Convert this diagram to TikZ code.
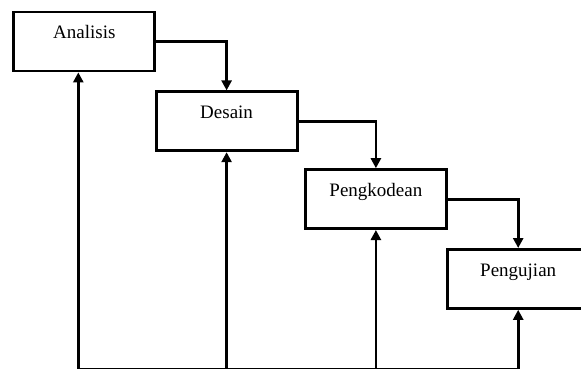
\documentclass[tikz,border=0pt]{standalone}
\usepackage{fontspec}
\setmainfont{Liberation Serif}
\usetikzlibrary{arrows.meta, positioning}

\begin{document}
\begin{tikzpicture}[x=1pt, y=-1pt, line width=2.8pt, >={Triangle[length=10pt, width=10pt]},
	every node/.style={align=center},
	phase/.style={rectangle, draw, minimum width=141pt, inner xsep=0pt, inner ysep=0pt,
		text height=27pt, text depth=32pt, font=\fontsize{19}{23}\selectfont}]
				\useasboundingbox (0,0) rectangle (581,369);
				% Nodes
				\node (analisis) [phase] at (84.3, 41.5) {Analisis};
				\node (desain) [phase, below right=18pt and -1.5pt of analisis] {Desain};
				\node (pengkodean) [phase, below right=16pt and 5.5pt of desain] {Pengkodean};
				\node (pengujian) [phase, below right=18pt and -1.5pt of pengkodean] {Pengujian};
				\coordinate (base) at (0, 369.8);
				
				% Arrows
				\draw[->] (analisis.east) -| (desain.north);
				\draw[->] (desain.east) -| (pengkodean.north);
				\draw[->] (pengkodean.east) -| (pengujian.north);
				\draw ([xshift=-6pt]analisis.south |- base) -- (pengujian.south |- base);
				\draw[->] ([xshift=-6pt]analisis.south |- base) -- ([xshift=-6pt]analisis.south);
				\draw[->] (desain.south |- base) -- (desain.south);
				\draw[->] (pengkodean.south |- base) -- (pengkodean.south);
				\draw[->] (pengujian.south |- base) -- (pengujian.south);
			\end{tikzpicture}
\end{document}
